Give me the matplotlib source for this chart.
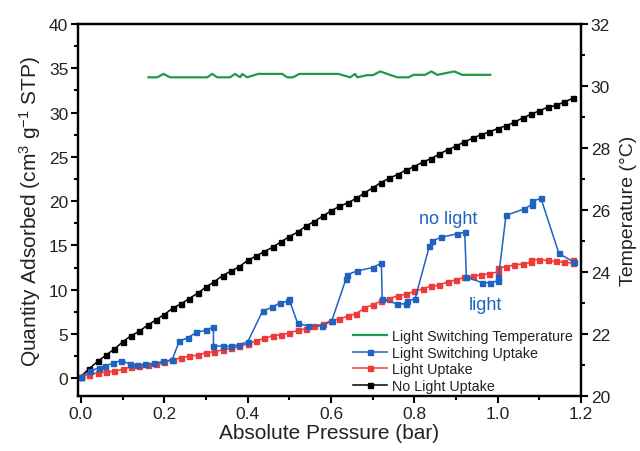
import matplotlib
matplotlib.use("Agg")
import matplotlib.pyplot as plt
from matplotlib.ticker import MultipleLocator
from matplotlib.lines import Line2D

plt.rcParams['font.family'] = ['Liberation Sans', 'DejaVu Sans']
plt.rcParams['mathtext.fontset'] = 'custom'
plt.rcParams['mathtext.rm'] = 'Liberation Sans'
plt.rcParams['mathtext.it'] = 'Liberation Sans'

# ---- data ----
black_x = [0.00, 0.02, 0.04, 0.06, 0.08, 0.10, 0.12, 0.14, 0.16, 0.18,
           0.20, 0.22, 0.24, 0.26, 0.28, 0.30, 0.32, 0.34, 0.36, 0.38,
           0.40, 0.42, 0.44, 0.46, 0.48, 0.50, 0.52, 0.54, 0.56, 0.58,
           0.60, 0.62, 0.64, 0.66, 0.68, 0.70, 0.72, 0.74, 0.76, 0.78,
           0.80, 0.82, 0.84, 0.86, 0.88, 0.90, 0.92, 0.94, 0.96, 0.98,
           1.00, 1.02, 1.04, 1.06, 1.08, 1.10, 1.12, 1.14, 1.16, 1.18]
black_y = [0.2, 1.1, 1.9, 2.6, 3.3, 4.1, 4.8, 5.3, 6.0, 6.6,
           7.2, 7.9, 8.4, 9.0, 9.6, 10.3, 10.9, 11.6, 12.1, 12.6,
           13.3, 13.8, 14.3, 14.8, 15.4, 16.0, 16.5, 17.2, 17.7, 18.3,
           18.9, 19.4, 19.8, 20.3, 20.9, 21.5, 22.1, 22.6, 23.0, 23.5,
           23.9, 24.4, 24.8, 25.3, 25.8, 26.2, 26.7, 27.1, 27.5, 27.8,
           28.2, 28.5, 28.9, 29.4, 29.8, 30.2, 30.6, 30.8, 31.2, 31.6]

red_x = [0.00, 0.02, 0.04, 0.06, 0.08, 0.10, 0.12, 0.14, 0.16, 0.18,
         0.20, 0.22, 0.24, 0.26, 0.28, 0.30, 0.32, 0.34, 0.36, 0.38,
         0.40, 0.42, 0.44, 0.46, 0.48, 0.50, 0.52, 0.54, 0.56, 0.58,
         0.60, 0.62, 0.64, 0.66, 0.68, 0.70, 0.72, 0.74, 0.76, 0.78,
         0.80, 0.82, 0.84, 0.86, 0.88, 0.90, 0.92, 0.94, 0.96, 0.98,
         1.00, 1.00, 1.02, 1.04, 1.06, 1.08, 1.08, 1.10, 1.12, 1.14,
         1.16, 1.18, 1.18]
red_y = [0.2, 0.4, 0.6, 0.7, 0.8, 1.0, 1.3, 1.4, 1.5, 1.6,
         1.8, 2.1, 2.3, 2.5, 2.6, 2.9, 3.0, 3.2, 3.4, 3.6,
         3.9, 4.2, 4.5, 4.8, 4.9, 5.1, 5.4, 5.6, 5.9, 6.1,
         6.5, 6.7, 7.0, 7.3, 7.9, 8.3, 8.7, 9.0, 9.3, 9.5,
         9.8, 10.1, 10.4, 10.5, 10.9, 11.1, 11.4, 11.5, 11.7, 11.8,
         12.0, 12.4, 12.6, 12.8, 12.9, 13.1, 13.4, 13.4, 13.3, 13.2,
         13.1, 13.0, 13.4]

blue_x = [0.000, 0.022, 0.043, 0.058, 0.077, 0.096, 0.118, 0.135, 0.154, 0.176,
          0.198, 0.219, 0.236, 0.258, 0.277, 0.299, 0.318, 0.318, 0.340, 0.360,
          0.380, 0.400, 0.436, 0.458, 0.477, 0.497, 0.499, 0.520, 0.545, 0.578,
          0.602, 0.636, 0.639, 0.662, 0.700, 0.721, 0.723, 0.759, 0.781, 0.783,
          0.802, 0.836, 0.843, 0.863, 0.902, 0.921, 0.925, 0.963, 0.982, 1.002,
          1.002, 1.020, 1.063, 1.082, 1.083, 1.104, 1.147, 1.183]
blue_y = [0.2, 0.8, 1.2, 1.4, 1.7, 2.0, 1.6, 1.5, 1.6, 1.7,
          1.9, 2.1, 4.2, 4.6, 5.2, 5.4, 5.8, 3.7, 3.6, 3.6,
          3.8, 4.1, 7.6, 8.0, 8.5, 8.7, 9.0, 6.2, 5.9, 5.9,
          6.5, 11.2, 11.7, 12.1, 12.5, 13.0, 8.9, 8.4, 8.4, 8.7,
          9.0, 14.9, 15.5, 15.9, 16.3, 16.5, 11.4, 10.8, 10.8, 11.0,
          11.4, 18.4, 19.1, 19.6, 20.0, 20.3, 14.1, 13.1]

temp_x = [0.162, 0.183, 0.198, 0.214, 0.303, 0.315, 0.327, 0.358, 0.370, 0.382,
          0.387, 0.399, 0.425, 0.483, 0.495, 0.509, 0.524, 0.618, 0.646, 0.658,
          0.663, 0.687, 0.701, 0.718, 0.735, 0.759, 0.786, 0.798, 0.826, 0.841,
          0.855, 0.896, 0.915, 0.982]
temp_y = [30.28, 30.28, 30.39, 30.28, 30.28, 30.39, 30.28, 30.28, 30.39, 30.28,
          30.39, 30.28, 30.39, 30.39, 30.28, 30.28, 30.39, 30.39, 30.28, 30.39,
          30.28, 30.35, 30.35, 30.47, 30.39, 30.28, 30.28, 30.36, 30.36, 30.47,
          30.36, 30.47, 30.36, 30.36]

labels = ["Light Switching Temperature", "Light Switching Uptake",
          "Light Uptake", "No Light Uptake"]

# ---- styles ----
c_black = '#000000'
c_red = '#f03a3a'
c_blue = '#1f62c0'
c_green = '#1f9a45'
txt = '#222222'

fig = plt.figure(figsize=(6.4, 4.52), dpi=100)
ax = fig.add_axes([0.1219, 0.1217, 0.7859, 0.8230])
ax2 = ax.twinx()

ms = 3.6
lw = 1.1
ax.plot(black_x, black_y, '-s', color=c_black, lw=lw, ms=ms, zorder=3)
ax.plot(red_x, red_y, '-s', color=c_red, lw=lw, ms=ms, zorder=4)
ax.plot(blue_x, blue_y, '-s', color=c_blue, lw=lw, ms=ms, zorder=5)
ax2.plot(temp_x, temp_y, '-', color=c_green, lw=1.6)

ax.set_xlim(-0.007, 1.2)
ax.set_ylim(-2, 40)
ax2.set_ylim(20, 32)

ax.xaxis.set_major_locator(MultipleLocator(0.2))
ax.xaxis.set_minor_locator(MultipleLocator(0.1))
ax.yaxis.set_major_locator(MultipleLocator(5))
ax.yaxis.set_minor_locator(MultipleLocator(2.5))
ax2.yaxis.set_major_locator(MultipleLocator(2))
ax2.yaxis.set_minor_locator(MultipleLocator(1))
ax.xaxis.set_major_formatter(plt.FuncFormatter(lambda v, p: f"{v:.1f}"))

for a in (ax, ax2):
    for s in a.spines.values():
        s.set_linewidth(1.6)
    a.tick_params(which='major', direction='out', length=5, width=1.5,
                  labelsize=12.5, labelcolor=txt, pad=2)
    a.tick_params(which='minor', direction='out', length=3, width=1.5)
ax.tick_params(top=False, which='both')

ax.set_xlabel("Absolute Pressure (bar)", fontsize=15, color=txt, labelpad=2)
ax.set_ylabel("Quantity Adsorbed (cm$^{3}$ g$^{-1}$ STP)", fontsize=15,
              color=txt, labelpad=4)
ax2.set_ylabel("Temperature (°C)", fontsize=14, color=txt, labelpad=7)

ax.text(0.881, 18.0, "no light", color=c_blue, fontsize=13,
        ha='center', va='center')
ax.text(0.971, 8.3, "light", color=c_blue, fontsize=13,
        ha='center', va='center')

handles = [
    Line2D([], [], color=c_green, lw=1.6),
    Line2D([], [], color=c_blue, lw=lw, marker='s', ms=ms),
    Line2D([], [], color=c_red, lw=lw, marker='s', ms=ms),
    Line2D([], [], color=c_black, lw=lw, marker='s', ms=ms),
]
leg = ax2.legend(handles, labels, loc='lower left', bbox_to_anchor=(0.547, 0.008),
                 frameon=False, fontsize=10.3, handlelength=2.4,
                 handletextpad=0.3, labelspacing=0.18, borderpad=0,
                 borderaxespad=0, markerscale=1.0)
for t in leg.get_texts():
    t.set_color(txt)

fig.savefig("out.png", dpi=100)
